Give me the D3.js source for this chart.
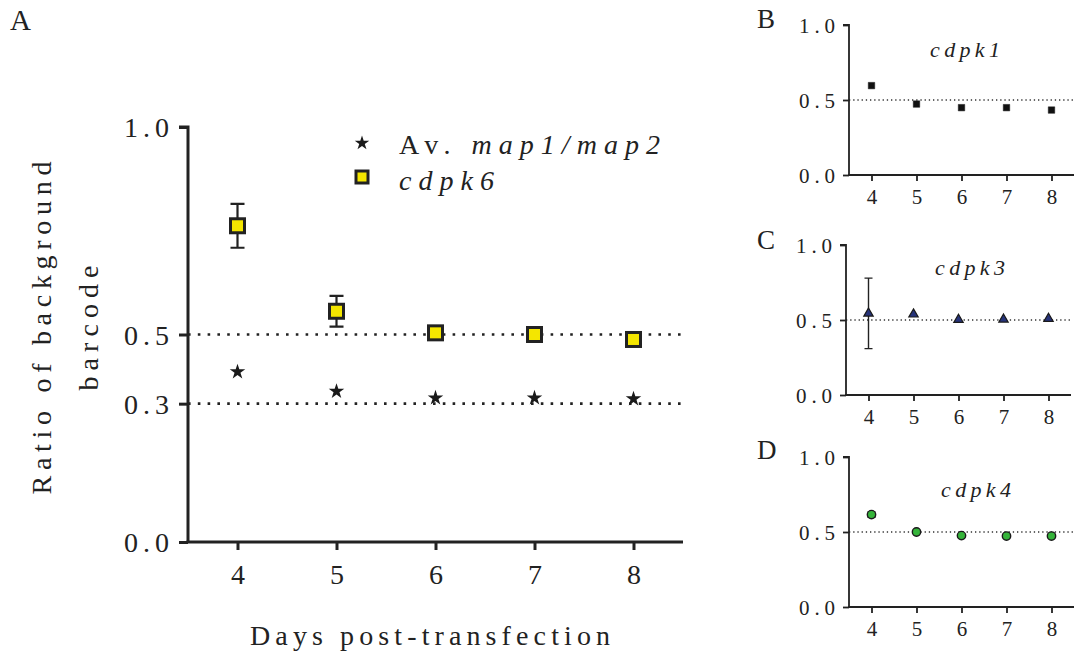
<!DOCTYPE html>
<html>
<head>
<meta charset="utf-8">
<script src="https://cdn.jsdelivr.net/npm/d3@7"></script>
<style>
  body { margin: 0; background: #fff; }
</style>
</head>
<body>
<script>
// data
const days = [4, 5, 6, 7, 8]
const mapAvg = [0.410, 0.363, 0.347, 0.347, 0.345]
const cdpk6 = [0.762, 0.556, 0.504, 0.500, 0.488]
const cdpk6Err = [0.053, 0.037, 0, 0, 0]
const cdpk1 = [0.596, 0.473, 0.449, 0.449, 0.433]
const cdpk3 = [0.544, 0.538, 0.502, 0.504, 0.509]
const cdpk3Err = [0.235, 0, 0, 0, 0]
const cdpk4 = [0.616, 0.500, 0.476, 0.473, 0.473]
const cdpk4Err = [0.018, 0, 0, 0, 0]
const mainTicks = [0, 1 / 3, 0.5, 1]
const mainTickLabels = ["0.0", "0.3", "0.5", "1.0"]
const refLines = [0.5, 1 / 3]
const subTicks = [0, 0.5, 1]

const FONT = 'Liberation Serif'

const svg = d3.select('body').append('svg')
    .attr('width', 1077)
    .attr('height', 655)

// ---------- panel A ----------
const x = d3.scaleLinear().domain([3.5, 8.5]).range([188, 683])
const y = d3.scaleLinear().domain([0, 1]).range([542, 127])
const gA = svg.append('g')

gA.selectAll('line.ref')
    .data(refLines)
    .enter()
    .append('line')
    .attr('class', 'ref')
    .attr('x1', x(3.5)).attr('x2', x(8.5))
    .attr('y1', d => y(d)).attr('y2', d => y(d))
    .attr('stroke', '#222')
    .attr('stroke-width', 2.6)
    .attr('stroke-dasharray', '2.6,7.2')

const yAxisA = gA.append('g')
    .attr('transform', `translate(${x(3.5)},0)`)
    .call(d3.axisLeft(y).tickValues(mainTicks).tickFormat((d, i) => mainTickLabels[i]).tickSize(9).tickPadding(10))
yAxisA.selectAll('path, line').attr('stroke', '#222').attr('stroke-width', 3)
yAxisA.select('.domain').attr('d', `M-9,${y(1)}H0V${y(0)}`)
yAxisA.selectAll('text').attr('font-size', 28).attr('textLength', 45).attr('lengthAdjust', 'spacing').attr('dy', '0.35em')

const xAxisA = gA.append('g')
    .attr('transform', `translate(0,${y(0)})`)
    .call(d3.axisBottom(x).tickValues(days).tickFormat(d3.format('d')).tickSize(8).tickPadding(14))
xAxisA.selectAll('path, line').attr('stroke', '#222').attr('stroke-width', 3)
xAxisA.select('.domain').attr('d', `M${x(3.5) - 1.5},0H${x(8.5)}`)
xAxisA.selectAll('text').attr('font-size', 28)

// error bars cdpk6
const errA = days.map((d, i) => ({ d, v: cdpk6[i], e: cdpk6Err[i] })).filter(o => o.e > 0)
gA.selectAll('path.errA')
    .data(errA)
    .enter()
    .append('path')
    .attr('class', 'errA')
    .attr('d', o => `M${x(o.d) - 7},${y(o.v + o.e)}H${x(o.d) + 7}M${x(o.d)},${y(o.v + o.e)}V${y(o.v - o.e)}M${x(o.d) - 7},${y(o.v - o.e)}H${x(o.d) + 7}`)
    .attr('stroke', '#222')
    .attr('stroke-width', 2.2)
    .attr('fill', 'none')

gA.selectAll('path.star')
    .data(days)
    .enter()
    .append('path')
    .attr('class', 'star')
    .attr('d', d3.symbol(d3.symbolStar, 75))
    .attr('transform', (d, i) => `translate(${x(d)},${y(mapAvg[i])})`)
    .attr('fill', '#1a1a1a')

gA.selectAll('rect.sq')
    .data(days)
    .enter()
    .append('rect')
    .attr('class', 'sq')
    .attr('x', d => x(d) - 7)
    .attr('y', (d, i) => y(cdpk6[i]) - 7)
    .attr('width', 14)
    .attr('height', 14)
    .attr('fill', '#f4e600')
    .attr('stroke', '#222')
    .attr('stroke-width', 3)

// legend
const leg = gA.append('g')
leg.append('path')
    .attr('d', d3.symbol(d3.symbolStar, 65))
    .attr('transform', 'translate(362,143)')
    .attr('fill', '#1a1a1a')
leg.append('rect')
    .attr('x', 356).attr('y', 171).attr('width', 12).attr('height', 12)
    .attr('fill', '#f4e600').attr('stroke', '#222').attr('stroke-width', 3)
const l1 = leg.append('text').attr('x', 399).attr('y', 154).attr('font-size', 28)
    .attr('textLength', 261).attr('lengthAdjust', 'spacing')
l1.append('tspan').text('Av. ')
l1.append('tspan').attr('font-style', 'italic').text('map1/map2')
leg.append('text').attr('x', 399).attr('y', 190).attr('font-size', 28)
    .attr('textLength', 95).attr('lengthAdjust', 'spacing')
    .attr('font-style', 'italic').text('cdpk6')

// axis titles
svg.append('text')
    .attr('transform', 'translate(51,328) rotate(-90)')
    .attr('text-anchor', 'middle')
    .attr('font-size', 28).attr('textLength', 333).attr('lengthAdjust', 'spacing')
    .text('Ratio of background')
svg.append('text')
    .attr('transform', 'translate(98,328) rotate(-90)')
    .attr('text-anchor', 'middle')
    .attr('font-size', 28).attr('textLength', 125).attr('lengthAdjust', 'spacing')
    .text('barcode')
svg.append('text')
    .attr('x', 430).attr('y', 645)
    .attr('text-anchor', 'middle')
    .attr('font-size', 28).attr('textLength', 360).attr('lengthAdjust', 'spacing')
    .text('Days post-transfection')

svg.append('text').attr('x', 10).attr('y', 30).attr('font-size', 29).text('A')

// ---------- small panels ----------
function smallPanel(cfg) {
    const sx = d3.scaleLinear().domain([3.5, 8.5]).range([cfg.x0, cfg.x1])
    const sy = d3.scaleLinear().domain([0, 1]).range([cfg.yBottom, cfg.yTop])
    const g = svg.append('g')

    g.append('line')
        .attr('x1', sx(3.5)).attr('x2', sx(8.5))
        .attr('y1', sy(0.5)).attr('y2', sy(0.5))
        .attr('stroke', '#333')
        .attr('stroke-width', 1.3)
        .attr('stroke-dasharray', '1.3,2.9')

    const ya = g.append('g')
        .attr('transform', `translate(${sx(3.5)},0)`)
        .call(d3.axisLeft(sy).tickValues(subTicks).tickFormat(d3.format('.1f')).tickSize(6).tickPadding(8))
    ya.selectAll('path, line').attr('stroke', '#222').attr('stroke-width', 1.8)
    ya.select('.domain').attr('d', `M-6,${sy(1)}H0V${sy(0)}`)
    ya.selectAll('text').attr('font-size', 21).attr('textLength', 36).attr('lengthAdjust', 'spacing').attr('dy', '0.35em')

    const xa = g.append('g')
        .attr('transform', `translate(0,${sy(0)})`)
        .call(d3.axisBottom(sx).tickValues(days).tickFormat(d3.format('d')).tickSize(6).tickPadding(8))
    xa.selectAll('path, line').attr('stroke', '#222').attr('stroke-width', 1.8)
    xa.select('.domain').attr('d', `M${sx(3.5) - 1},0H${sx(8.5)}`)
    xa.selectAll('text').attr('font-size', 21)

    const err = days.map((d, i) => ({ d, v: cfg.values[i], e: cfg.err ? cfg.err[i] : 0 })).filter(o => o.e > 0)
    g.selectAll('path.err')
        .data(err)
        .enter()
        .append('path')
        .attr('class', 'err')
        .attr('d', o => `M${sx(o.d) - 4},${sy(o.v + o.e)}H${sx(o.d) + 4}M${sx(o.d)},${sy(o.v + o.e)}V${sy(o.v - o.e)}M${sx(o.d) - 4},${sy(o.v - o.e)}H${sx(o.d) + 4}`)
        .attr('stroke', '#222')
        .attr('stroke-width', 1.4)
        .attr('fill', 'none')

    g.selectAll('path.pt')
        .data(days)
        .enter()
        .append('path')
        .attr('class', 'pt')
        .attr('d', d3.symbol(cfg.symbol, cfg.size))
        .attr('transform', (d, i) => `translate(${sx(d)},${sy(cfg.values[i])})`)
        .attr('fill', cfg.fill)
        .attr('stroke', '#1a1a1a')
        .attr('stroke-width', cfg.strokeW)

    g.append('text')
        .attr('x', cfg.titleX).attr('y', cfg.titleY)
        .attr('text-anchor', 'middle')
        .attr('font-size', 22).attr('font-style', 'italic')
        .attr('textLength', 70).attr('lengthAdjust', 'spacing')
        .text(cfg.title)

    svg.append('text').attr('x', 757).attr('y', cfg.labelY).attr('font-size', 27).text(cfg.label)
}

smallPanel({ label: 'B', labelY: 28, title: 'cdpk1', titleX: 965, titleY: 57, x0: 849, x1: 1074, yTop: 25, yBottom: 175,
    values: cdpk1, symbol: d3.symbolSquare, size: 42, fill: '#111', strokeW: 0.5 })
smallPanel({ label: 'C', labelY: 249, title: 'cdpk3', titleX: 970, titleY: 275, x0: 846, x1: 1071, yTop: 245, yBottom: 395,
    values: cdpk3, err: cdpk3Err, symbol: d3.symbolTriangle, size: 38, fill: '#26337a', strokeW: 1.2 })
smallPanel({ label: 'D', labelY: 459, title: 'cdpk4', titleX: 976, titleY: 497, x0: 849, x1: 1074, yTop: 457, yBottom: 607,
    values: cdpk4, err: cdpk4Err, symbol: d3.symbolCircle, size: 55, fill: '#35b43a', strokeW: 1.4 })

// one serif face for every label, axes included
svg.selectAll('g').attr('font-family', null)
svg.selectAll('text').attr('font-family', FONT).attr('fill', '#222')
</script>
</body>
</html>
